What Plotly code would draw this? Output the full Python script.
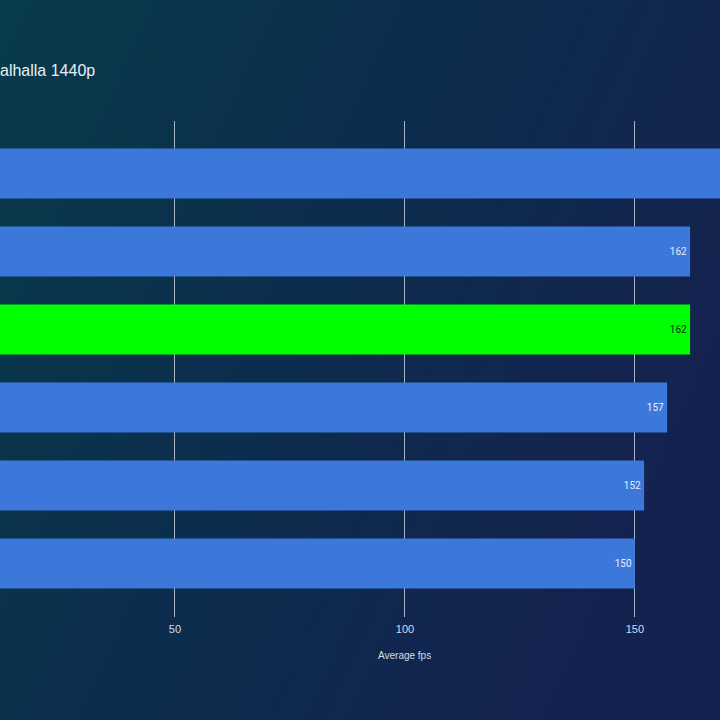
import base64
import plotly.graph_objects as go

# Data (category names are cut off in the reference; placeholders kept hidden)
categories = ["GPU A", "GPU B", "GPU C", "GPU D", "GPU E", "GPU F"]
avg_fps = [176, 162, 162, 157, 152, 150]
bar_labels = ["", "162", "162", "157", "152", "150"]  # first label lies outside the visible area
bar_colors = ["#3b78d9", "#3b78d9", "#00ff00", "#3b78d9", "#3b78d9", "#3b78d9"]
label_colors = ["#ffffff", "#e8eef8", "#0b2a10", "#e8eef8", "#e8eef8", "#e8eef8"]
tick_vals = [50, 100, 150]
title_text = "alhalla 1440p"
x_title = "Average fps"

W, H = 720, 720
top, bottom = 121, 103
plot_h = H - top - bottom

svg = f'''<svg xmlns="http://www.w3.org/2000/svg" width="{W}" height="{H}">
<defs><linearGradient id="g" gradientUnits="userSpaceOnUse" x1="0" y1="0" x2="{W}" y2="{int(H*0.45)}">
<stop offset="0" stop-color="#073b4a"/>
<stop offset="0.5" stop-color="#0c2d4d"/>
<stop offset="1" stop-color="#14224f"/>
</linearGradient></defs>
<rect width="{W}" height="{H}" fill="url(#g)"/></svg>'''
bg_uri = "data:image/svg+xml;base64," + base64.b64encode(svg.encode()).decode()

fig = go.Figure(go.Bar(
    x=avg_fps, y=categories, orientation="h",
    marker=dict(color=bar_colors, line=dict(width=0)),
    text=bar_labels, textposition="inside", insidetextanchor="end",
    textfont=dict(family="Roboto", size=10, color=label_colors),
    width=0.64, cliponaxis=True,
))

fig.update_layout(
    width=W, height=H,
    margin=dict(l=0, r=0, t=top, b=bottom, pad=0),
    paper_bgcolor="#0e2c4c", plot_bgcolor="rgba(0,0,0,0)",
    showlegend=False,
    title=dict(text=title_text, x=0, xanchor="left", xref="container",
               y=1 - 70 / H, yanchor="middle", yref="container",
               font=dict(family="Liberation Sans", size=16, color="#e8f0f6")),
    images=[dict(source=bg_uri, xref="paper", yref="paper", x=0, y=1 + top / plot_h,
                 sizex=1, sizey=H / plot_h, sizing="stretch", layer="below",
                 xanchor="left", yanchor="top")],
    annotations=[dict(text=x_title, xref="x", x=100, yref="paper", y=-(655 - 617) / plot_h,
                      yanchor="middle", xanchor="center", showarrow=False,
                      font=dict(family="Liberation Sans", size=10, color="#d5dde8"))],
)
fig.update_xaxes(
    range=[11.96, 168.5], tickvals=tick_vals, showgrid=True, gridcolor="#aab3c3", gridwidth=1,
    zeroline=False, showline=False, ticks="", ticklabelstandoff=4,
    tickfont=dict(family="Liberation Sans", size=11, color="#d5dde8"),
)
fig.update_yaxes(
    categoryorder="array", categoryarray=categories, autorange=False,
    range=[5.686, -0.673], showticklabels=False, showgrid=False, zeroline=False, showline=False,
)
fig.write_html("out.html")
